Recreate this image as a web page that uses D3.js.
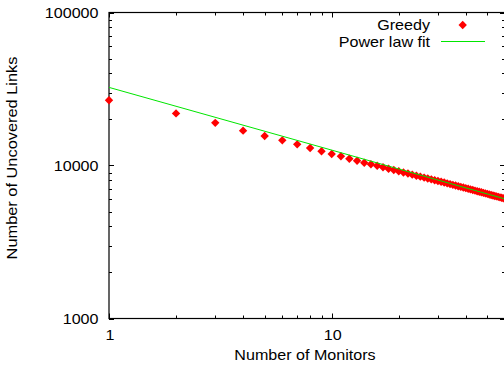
<!DOCTYPE html>
<html>
<head>
<meta charset="utf-8">
<script src="https://cdn.jsdelivr.net/npm/d3@7"></script>
<style>
  html, body { margin: 0; padding: 0; background: #fff; }
  svg { display: block; }
  text { font-family: "Liberation Sans", Arial, Helvetica, sans-serif; font-size: 14px; fill: #000; }
</style>
</head>
<body>
<svg id="chart" width="504" height="375"></svg>
<script>
// Number of monitors placed by the greedy algorithm
const monitors = [
  1, 2, 3, 4, 5, 6, 7, 8, 9, 10,
  11, 12, 13, 14, 15, 16, 17, 18, 19, 20,
  21, 22, 23, 24, 25, 26, 27, 28, 29, 30,
  31, 32, 33, 34, 35, 36, 37, 38, 39, 40,
  41, 42, 43, 44, 45, 46, 47, 48, 49, 50,
  51, 52, 53, 54, 55, 56, 57, 58, 59, 60
];
// Links still uncovered after each monitor is added
const uncoveredLinks = [
  26700, 21900, 19000, 16900, 15600, 14600, 13750, 13000, 12400, 11900,
  11500, 11080, 10730, 10420, 10190, 9960, 9740, 9530, 9350, 9175,
  9010, 8860, 8715, 8580, 8455, 8335, 8225, 8120, 8015, 7920,
  7825, 7735, 7645, 7560, 7475, 7395, 7320, 7245, 7175, 7110,
  7045, 6980, 6915, 6855, 6795, 6735, 6680, 6625, 6570, 6520,
  6470, 6420, 6370, 6325, 6280, 6235, 6190, 6150, 6110, 6070
];
// Power law fit, a straight line on log-log axes: end points
const fitMonitors = [1, 60];
const fitLinks = [32400, 6046];

const xTickLabels = [1, 10];
const yTickLabels = [1000, 10000, 100000];

const xDomain = [1, 60];
const yDomain = [1000, 100000];

const plot = { left: 109, right: 505, top: 12.5, bottom: 318.5 };
const stretch = 1.15;   // wide glyphs of the tick and axis labels

const svg = d3.select("#chart");
const x = d3.scaleLog().domain(xDomain).range([plot.left, plot.right]);
const y = d3.scaleLog().domain(yDomain).range([plot.bottom, plot.top]);

// Major and minor tick values for each decade
const xMajor = [1, 10];
const xMinor = x.ticks().filter(v => !xMajor.includes(v) && v > xDomain[0] && v < xDomain[1]);
const yMajor = [1000, 10000, 100000];
const yMinor = y.ticks().filter(v => !yMajor.includes(v));

const majorLen = 5, minorLen = 3;
const ticks = svg.append("g").attr("stroke", "#000").attr("stroke-width", 1);

function vTicks(values, len) {
  values.forEach(v => {
    const px = Math.round(x(v)) + 0.5;
    ticks.append("line").attr("x1", px).attr("x2", px)
      .attr("y1", plot.bottom).attr("y2", plot.bottom - len);
    ticks.append("line").attr("x1", px).attr("x2", px)
      .attr("y1", plot.top).attr("y2", plot.top + len);
  });
}
function hTicks(values, len) {
  values.forEach(v => {
    const py = Math.round(y(v)) + 0.5;
    ticks.append("line").attr("x1", plot.left).attr("x2", plot.left + len)
      .attr("y1", py).attr("y2", py);
    ticks.append("line").attr("x1", plot.right).attr("x2", plot.right - len)
      .attr("y1", py).attr("y2", py);
  });
}
vTicks(xMajor, majorLen);
vTicks(xMinor, minorLen);
hTicks(yMajor, majorLen);
hTicks(yMinor, minorLen);

// Plot border
svg.append("rect")
  .attr("x", plot.left).attr("y", plot.top)
  .attr("width", plot.right - plot.left).attr("height", plot.bottom - plot.top)
  .attr("fill", "none").attr("stroke", "#000").attr("stroke-width", 1.2);

// Tick labels
function stretchedText(tx, ty, str, anchor) {
  return svg.append("text")
    .attr("transform", `translate(${tx},${ty}) scale(${stretch},1)`)
    .attr("text-anchor", anchor)
    .text(str);
}
yTickLabels.forEach(v => stretchedText(98.5, y(v) + 5, String(v), "end"));
xTickLabels.forEach(v => stretchedText(x(v) + 1, plot.bottom + 21.5, String(v), "middle"));

// Axis titles
stretchedText(305, 360, "Number of Monitors", "middle");
svg.append("text")
  .attr("transform", `translate(17,158) rotate(-90) scale(1.17,1)`)
  .attr("text-anchor", "middle")
  .text("Number of Uncovered Links");

// Filled diamond marker
const r = 4.2;
function diamond(cx, cy) {
  return `M${cx},${cy - r}L${cx + r},${cy}L${cx},${cy + r}L${cx - r},${cy}Z`;
}

const greedy = monitors.map((m, i) => ({ m, v: uncoveredLinks[i] }));
svg.append("g").selectAll("path")
  .data(greedy)
  .join("path")
  .attr("d", d => diamond(x(d.m), y(d.v)))
  .attr("fill", "#ff0000");

// Power law fit line
const fit = fitMonitors.map((m, i) => ({ m, v: fitLinks[i] }));
svg.append("path")
  .datum(fit)
  .attr("d", d3.line().x(d => x(d.m)).y(d => y(d.v)))
  .attr("fill", "none")
  .attr("stroke", "#00e600")
  .attr("stroke-width", 1);

// Legend
stretchedText(430, 30.3, "Greedy", "end");
svg.append("path").attr("d", diamond(462.7, 25)).attr("fill", "#ff0000");
stretchedText(430, 46.5, "Power law fit", "end");
svg.append("line")
  .attr("x1", 441).attr("x2", 485).attr("y1", 41.5).attr("y2", 41.5)
  .attr("stroke", "#00e600").attr("stroke-width", 1);
</script>
</body>
</html>
